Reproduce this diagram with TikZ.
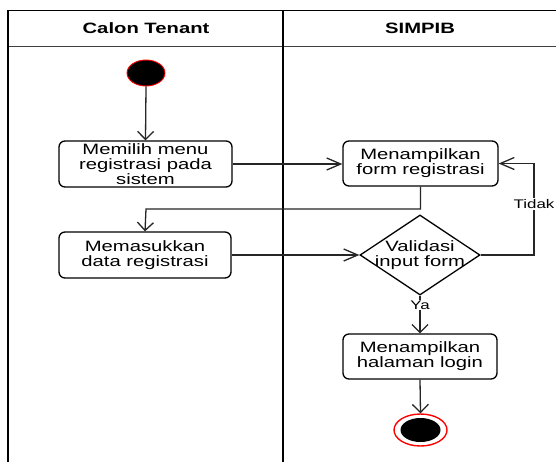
\documentclass[tikz,border=0pt]{standalone}
\usepackage{fontspec}
\setmainfont{Liberation Sans}[FakeStretch=1.35]
\usetikzlibrary{arrows.meta,shapes.geometric}

\tikzset{
  act/.style={draw=black, line width=1.3pt, rounded corners=6pt, fill=white,
    align=center, inner sep=0pt, minimum width=#1, minimum height=46,
    font=\fontsize{15}{15}\selectfont},
  act/.default=155,
  flow/.style={draw=black!85, line width=1.3pt},
  vtip/.style={flow, -{Straight Barb[length=8pt,width=16pt,line width=1.3pt]}},
  htip/.style={flow, -{Straight Barb[length=14pt,width=12pt,line width=1.3pt]}},
  lane/.style={draw=black, line width=1.8pt},
  sep/.style={draw=black!75, line width=1.1pt},
  head/.style={font=\fontsize{15}{15}\selectfont\bfseries},
  guard/.style={fill=white, inner sep=1pt, font=\fontsize{12.5}{13}\selectfont},
  startdot/.style={ellipse, draw=red, fill=black, line width=0.9pt,
    minimum width=38, minimum height=26, inner sep=0pt},
  ring/.style={ellipse, draw=red, fill=white, line width=1.4pt,
    minimum width=53, minimum height=32, inner sep=0pt},
  core/.style={ellipse, fill=black, minimum width=40, minimum height=24, inner sep=0pt},
  choice/.style={diamond, draw=black, line width=1.3pt, fill=white,
    minimum width=120, minimum height=80, inner sep=0pt, aspect=1.5},
}

\begin{document}
\begin{tikzpicture}[x=1pt, y=-1pt]
  \clip (0,0) rectangle (556,461);
  \fill[white] (0,0) rectangle (556,461);

  % swimlanes
  \draw[sep] (8,46.5) -- (560,46.5);
  \draw[lane] (8,470) -- (8,10.5) -- (560,10.5);
  \draw[lane] (283,10.5) -- (283,470);
  \node[head] (laneA) at (146,28.5) {Calon Tenant};
  \node[head] (laneB) at (420,28.5) {SIMPIB};

  % activities
  \node[startdot] (start) at (146,73) {};
  \node[act=173] (pilih) at (145.5,164) {Memilih menu\\registrasi pada\\sistem};
  \node[act=155, minimum height=45] (form) at (420.5,163.5) {Menampilkan\\form registrasi};
  \node[act=172] (isi) at (145,255) {Memasukkan\\data registrasi};
  \node[choice] (cek) at (420,255) {};
  \node[font=\fontsize{15}{15}\selectfont, align=center, inner sep=0pt] (cektxt) at (420,255) {Validasi\\input form};
  \node[act=154, minimum height=45] (login) at (420,356.5) {Menampilkan\\halaman login};
  \node[ring] (stop) at (420.5,430) {};
  \node[core] (stopin) at (420.5,430) {};

  \coordinate (j1) at (146,209);
  \coordinate (t1) at (534,209);

  % flows
  \draw[vtip] (start.south) -- (pilih.north);
  \draw[htip] (pilih.east) -- (pilih.east -| form.west);
  \draw[vtip] (form.south) |- (j1) -- (isi.north);
  \draw[htip] (isi.east) -- (cek.west);
  \draw[htip] (cek.east) -| (t1) |- (form.east);
  \node[guard] (tidak) at (534,204) {Tidak};
  \draw[vtip] (cek.south) -- (login.north);
  \node[guard] (ya) at (420,305) {Ya};
  \draw[vtip] (login.south) -- (stop.north);
\end{tikzpicture}
\end{document}
